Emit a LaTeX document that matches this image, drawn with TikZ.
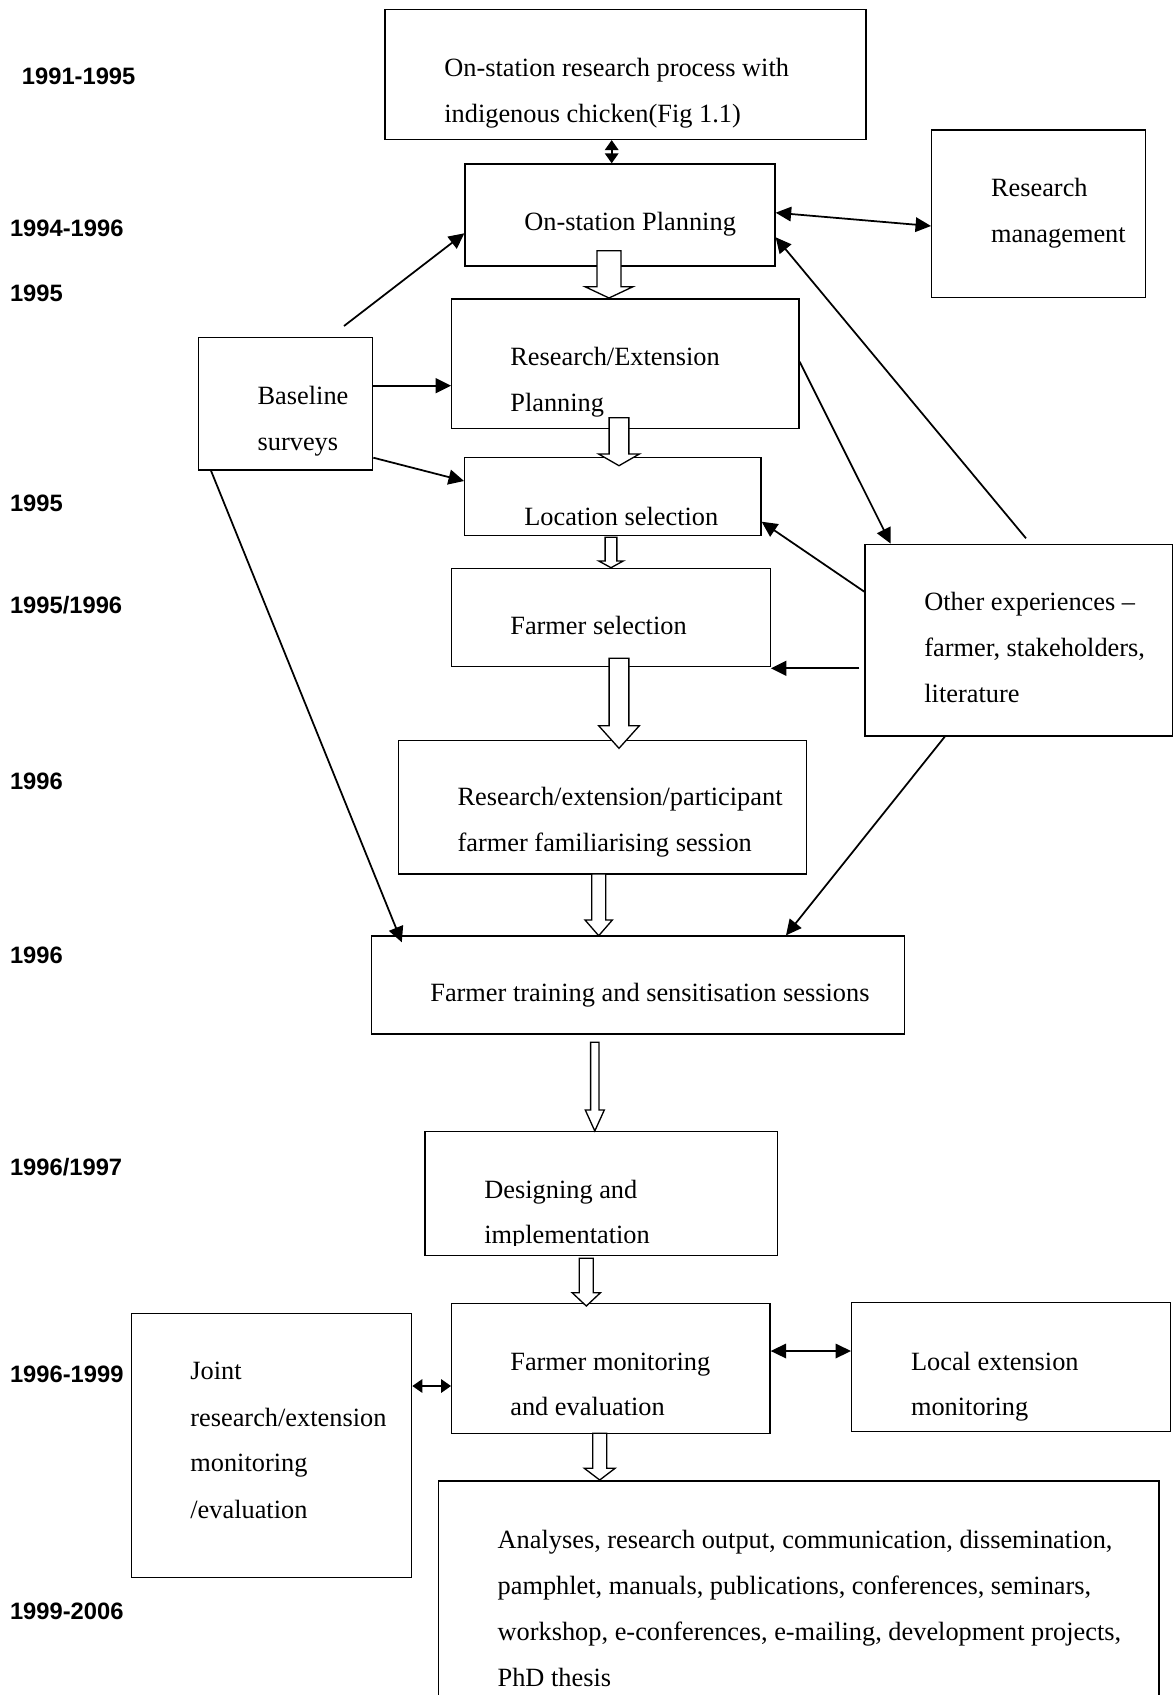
\documentclass[tikz,border=0pt]{standalone}
\usepackage{fontspec}
\setmainfont{Liberation Serif}
\newfontfamily\yearfont{Liberation Sans}
\usetikzlibrary{arrows.meta,fit}

\tikzset{
  box/.style={draw, line width=0.75pt, inner sep=0pt},
  txt/.style={anchor=base west, inner sep=0pt, font=\fontsize{15}{18}\selectfont},
  year/.style={anchor=west, inner sep=0pt, font=\yearfont\bfseries\fontsize{13.5}{16}\selectfont},
  link/.style={-{Triangle[length=0.31cm,width=0.3cm]}, line width=1pt},
  twolink/.style={{Triangle[length=0.31cm,width=0.29cm]}-{Triangle[length=0.31cm,width=0.29cm]}, line width=1pt},
  twoshort/.style={{Triangle[length=0.2cm,width=0.27cm]}-{Triangle[length=0.2cm,width=0.27cm]}, line width=1pt},
  hollow/.style={draw, fill=white, line width=0.75pt},
}

% hollow block arrow: x, top, head base, tip, half shaft, half head
\newcommand{\blockarrow}[6]{%
  \draw[hollow] ({#1-#5},#2) -- ({#1-#5},#3) -- ({#1-#6},#3) -- (#1,#4)
    -- ({#1+#6},#3) -- ({#1+#5},#3) -- ({#1+#5},#2) -- cycle;}

\begin{document}
\begin{tikzpicture}[x=0.02cm, y=-0.02cm]
    \useasboundingbox (0,0) rectangle (1176,1695);

    % Years
    \node[year] (yr1) at (21.6, 76.7) {1991-1995};
    \node[year] (yr2) at (9.7, 228) {1994-1996};
    \node[year] (yr3) at (9.7, 293) {1995};
    \node[year] (yr4) at (9.7, 503.7) {1995};
    \node[year] (yr5) at (9.7, 605) {1995/1996};
    \node[year] (yr6) at (9.7, 781.5) {1996};
    \node[year] (yr7) at (9.7, 955.6) {1996};
    \node[year] (yr8) at (9.7, 1167.5) {1996/1997};
    \node[year] (yr9) at (9.7, 1374) {1996-1999};
    \node[year] (yr10) at (9.7, 1611.8) {1999-2006};

    % Define the boxes
    \node[box, fit={(385,9.7) (866,139.4)}] (topbox) {};
    \node[box, fit={(465,164) (775,266)}] (onst) {};
    \node[box, fit={(931.7,130) (1145.7,297.7)}] (resman) {};
    \node[box, fit={(451.7,299) (799,428.3)}] (resext) {};
    \node[box, fit={(198.3,337.7) (372.7,470)}] (base) {};
    \node[box, fit={(464.7,457.7) (761,535.7)}] (loc) {};
    \node[box, fit={(451.7,568.3) (770.3,666.7)}] (farmsel) {};
    \node[box, fit={(865,544.3) (1172.3,736)}] (other) {};
    \node[box, fit={(398.3,740.7) (806.7,874)}] (famil) {};
    \node[box, fit={(371.7,936) (904.8,1034)}] (train) {};
    \node[box, fit={(425,1131.7) (777.3,1255.7)}] (design) {};
    \node[box, fit={(451.7,1303.3) (770,1433.3)}] (farmmon) {};
    \node[box, fit={(851.7,1302.7) (1170.7,1431.7)}] (localext) {};
    \node[box, fit={(131.7,1313.3) (411.7,1577.7)}] (joint) {};
    \node[box, fit={(438.3,1481) (1159,1720)}] (output) {};

    % Box texts
    \node[txt] (topbox-1) at (444, 76.7) {On-station research process with};
    \node[txt] (topbox-2) at (444, 122.7) {indigenous chicken(Fig 1.1)};
    \node[txt] (onst-1) at (524, 230) {On-station Planning};
    \node[txt] (resman-1) at (990.7, 196.7) {Research};
    \node[txt] (resman-2) at (990.7, 242.7) {management};
    \node[txt] (resext-1) at (510, 365) {Research/Extension};
    \node[txt] (resext-2) at (510, 411) {Planning};
    \node[txt] (base-1) at (257.3, 404.3) {Baseline};
    \node[txt] (base-2) at (257.3, 450.7) {surveys};
    \node[txt] (loc-1) at (524, 525) {Location selection};
    \node[txt] (farmsel-1) at (510, 634.3) {Farmer selection};
    \node[txt] (other-1) at (924, 610) {Other experiences \textendash};
    \node[txt] (other-2) at (924, 656) {farmer, stakeholders,};
    \node[txt] (other-3) at (924, 702) {literature};
    \node[txt] (famil-1) at (457.3, 805.7) {Research/extension/participant};
    \node[txt] (famil-2) at (457.3, 851.7) {farmer familiarising session};
    \node[txt] (train-1) at (430, 1001.7) {Farmer training and sensitisation sessions};
    \begin{scope}
      \clip (425,1131.7) rectangle (777.3,1245.5);
      \node[txt] (design-1) at (484, 1198.3) {Designing and};
      \node[txt] (design-2) at (484, 1243.3) {implementation};
    \end{scope}
    \node[txt] (farmmon-1) at (510, 1370) {Farmer monitoring};
    \node[txt] (farmmon-2) at (510, 1415) {and evaluation};
    \node[txt] (localext-1) at (910.7, 1370.7) {Local extension};
    \node[txt] (localext-2) at (910.7, 1415.7) {monitoring};
    \node[txt] (joint-1) at (190, 1379.3) {Joint};
    \node[txt] (joint-2) at (190, 1426) {research/extension};
    \node[txt] (joint-3) at (190, 1471.7) {monitoring};
    \node[txt] (joint-4) at (190, 1518.3) {/evaluation};
    \node[txt] (output-1) at (497.3, 1548.3) {Analyses, research output, communication, dissemination,};
    \node[txt] (output-2) at (497.3, 1594.3) {pamphlet, manuals, publications, conferences, seminars,};
    \node[txt] (output-3) at (497.3, 1640.3) {workshop, e-conferences, e-mailing, development projects,};
    \node[txt] (output-4) at (497.3, 1686.3) {PhD thesis};

    % Hollow arrows down the main line
    \blockarrow{609}{250.7}{286.7}{298}{12}{24}
    \blockarrow{619}{417.7}{454}{465.7}{9.85}{20.35}
    \blockarrow{611}{537.3}{561}{567.7}{5.85}{12.2}
    \blockarrow{619}{658.3}{725.7}{748.3}{9.85}{20.35}
    \blockarrow{598.7}{874}{920}{935.7}{7}{13.65}
    \blockarrow{594.8}{1042.3}{1110}{1131}{4.2}{9.5}
    \blockarrow{586.3}{1258.3}{1292.7}{1306}{7}{14.15}
    \blockarrow{599.7}{1433.3}{1468.3}{1480}{7}{15.35}

    % Draw the edges
    \coordinate (basetop) at (344, 326);
    \coordinate (othertop) at (1026, 538.3);
    \draw[twoshort] (611.7,0 |- topbox.south) -- (611.7,0 |- onst.north);
    \draw[link] (basetop) -- (onst.west |- 0,233.3);
    \draw[twolink] (onst.east |- 0,212.7) -- (resman.west |- 0,226);
    \draw[link] (othertop) -- (onst.east |- 0,237.3);
    \draw[link] (resext.east |- 0,361.7) -- (890.7,0 |- other.north);
    \draw[link] (other.west |- 0,591.7) -- (loc.east |- 0,521.7);
    \draw[link] (859.4,0 |- 0,668.3) -- (farmsel.east |- 0,668.3);
    \draw[link] (944.8,0 |- other.south) -- (786,0 |- train.north);
    \draw[link] (base.east |- 0,385.7) -- (resext.west |- 0,385.7);
    \draw[link] (base.east |- 0,457.7) -- (loc.west |- 0,481);
    \draw[link, shorten >=-0.15cm] (211,0 |- base.south) -- (399,0 |- train.north);
    \draw[twoshort] (joint.east |- 0,1386) -- (farmmon.west |- 0,1386);
    \draw[twolink] (farmmon.east |- 0,1351) -- (localext.west |- 0,1351);
\end{tikzpicture}
\end{document}
